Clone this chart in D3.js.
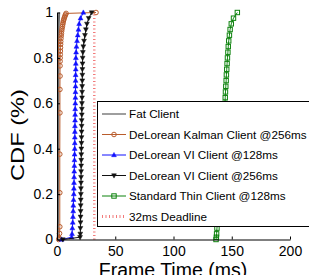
<!DOCTYPE html>
<html>
<head>
<meta charset="utf-8">
<script src="https://cdn.jsdelivr.net/npm/d3@7"></script>
<style>
  body { margin: 0; background: #fff; }
  svg { display: block; font-family: "Liberation Sans", Arial, sans-serif; }
</style>
</head>
<body>
<div id="graph_area"></div>
<script>
// CDF data: frame time (ms) vs cumulative fraction
const fatMs = [0.5, 0.7, 0.9, 1.0, 1.1, 1.2, 1.3, 1.5, 1.8, 2.0];
const fatCdf = [0, 0.02, 0.1, 0.3, 0.5, 0.7, 0.85, 0.95, 0.99, 1];

const kalmanMs = [1.5, 2.0, 2.2, 2.4, 2.4, 2.4, 2.5, 2.5, 2.6, 2.6, 2.65, 2.7, 2.8, 2.9, 3.0, 3.1, 3.2, 3.4, 3.6, 3.8, 4.0, 4.3, 4.6, 4.9, 5.2, 5.5, 5.9, 6.3, 6.8, 7.3, 7.8, 33.5];
const kalmanCdf = [0, 0.005, 0.027, 0.056, 0.206, 0.376, 0.558, 0.661, 0.72, 0.765, 0.785, 0.8, 0.815, 0.83, 0.845, 0.86, 0.872, 0.885, 0.897, 0.908, 0.918, 0.928, 0.938, 0.947, 0.955, 0.963, 0.97, 0.977, 0.984, 0.99, 0.996, 1];

// shared quantile levels for the VI and thin client curves
const levelCdf = [0, 0.01, 0.025, 0.05, 0.075, 0.1, 0.125, 0.15, 0.175, 0.2, 0.225, 0.25, 0.275, 0.3, 0.325, 0.35, 0.375, 0.4, 0.425, 0.45, 0.475, 0.5, 0.525, 0.55, 0.575, 0.6, 0.625, 0.65, 0.675, 0.7, 0.725, 0.75, 0.775, 0.8, 0.825, 0.85, 0.875, 0.9, 0.925, 0.95, 0.975, 1];

const vi128Ms = [4, 12.6, 12.9, 13.2, 13.5, 13.7, 13.9, 14.0, 14.2, 14.4, 14.5, 14.6, 14.7, 14.8, 14.9, 15.0, 15.1, 15.2, 15.25, 15.3, 15.35, 15.4, 15.5, 15.55, 15.6, 15.7, 15.8, 15.85, 15.9, 15.95, 16.0, 16.1, 16.15, 16.2, 16.4, 16.7, 17.2, 17.8, 18.4, 19.0, 20.2, 22.6];

const vi256Ms = [5, 19.8, 20.0, 20.1, 20.2, 20.25, 20.3, 20.35, 20.4, 20.5, 20.55, 20.6, 20.65, 20.7, 20.75, 20.8, 20.85, 20.9, 21.0, 21.05, 21.1, 21.15, 21.2, 21.3, 21.35, 21.4, 21.5, 21.55, 21.6, 21.7, 21.75, 21.8, 21.9, 22.0, 22.2, 22.6, 23.2, 24.0, 24.8, 25.7, 27.2, 29.8];

const thinMs = [136.5, 136.8, 137.0, 137.3, 137.7, 138.0, 138.4, 138.8, 139.1, 139.5, 139.8, 140.2, 140.6, 141.0, 141.3, 141.7, 142.0, 142.3, 142.6, 142.8, 143.1, 143.3, 143.6, 143.8, 144.0, 144.2, 144.4, 144.6, 144.9, 145.2, 145.4, 145.7, 146.0, 146.3, 146.7, 147.0, 147.4, 148.0, 148.6, 149.6, 151.5, 154.8];

const deadlineMs = 32;

const legendLabels = [
  'Fat Client',
  'DeLorean Kalman Client @256ms',
  'DeLorean VI Client @128ms',
  'DeLorean VI Client @256ms',
  'Standard Thin Client @128ms',
  '32ms Deadline',
];

const xTicks = [0, 50, 100, 150, 200];
const yTicks = [0, 0.2, 0.4, 0.6, 0.8, 1];
const yTickLabels = ['0', '0.2', '0.4', '0.6', '0.8', '1'];

// Draw area
const W = 309, H = 275;
const svg = d3.select('#graph_area')
  .append('svg')
    .attr('width', W)
    .attr('height', H);

const x = d3.scaleLinear().domain([0, 200]).range([57, 290]);
const y = d3.scaleLinear().domain([0, 1]).range([239.5, 12.5]);

const line = d3.line()
  .x(d => x(d[0]))
  .y(d => y(d[1]));

const series = [
  { ms: fatMs, cdf: fatCdf, color: '#6a6a6a', marker: null, width: 2 },
  { ms: kalmanMs, cdf: kalmanCdf, color: '#b95c2c', marker: 'circle', width: 1 },
  { ms: vi128Ms, cdf: levelCdf, color: '#1010ff', marker: 'up', width: 1 },
  { ms: vi256Ms, cdf: levelCdf, color: '#111111', marker: 'down', width: 1 },
  { ms: thinMs, cdf: levelCdf, color: '#0c820c', marker: 'square', width: 1 },
];

function drawMarker(g, type, cx, cy, color) {
  if (type === 'circle') {
    g.append('circle').attr('cx', cx).attr('cy', cy).attr('r', 2.3)
      .attr('fill', 'none').attr('stroke', color).attr('stroke-width', 1);
  } else if (type === 'up') {
    g.append('path')
      .attr('d', `M${cx},${cy - 2.6}L${cx + 2.4},${cy + 1.7}L${cx - 2.4},${cy + 1.7}Z`)
      .attr('fill', color).attr('stroke', color).attr('stroke-width', 0.5);
  } else if (type === 'down') {
    g.append('path')
      .attr('d', `M${cx},${cy + 2.6}L${cx + 2.4},${cy - 1.7}L${cx - 2.4},${cy - 1.7}Z`)
      .attr('fill', color).attr('stroke', color).attr('stroke-width', 0.5);
  } else if (type === 'square') {
    g.append('rect').attr('x', cx - 2.2).attr('y', cy - 2.2)
      .attr('width', 4.4).attr('height', 4.4)
      .attr('fill', 'none').attr('stroke', color).attr('stroke-width', 1);
  }
}

// Curves
series.forEach(s => {
  const pts = s.ms.map((v, i) => [v, s.cdf[i]]);
  const g = svg.append('g');
  g.append('path')
    .datum(pts)
    .attr('fill', 'none')
    .attr('stroke', s.color)
    .attr('stroke-width', s.width)
    .attr('d', line);
  if (s.marker) {
    pts.forEach(p => drawMarker(g, s.marker, x(p[0]), y(p[1]), s.color));
  }
});

// Deadline
svg.append('line')
  .attr('x1', x(deadlineMs)).attr('x2', x(deadlineMs))
  .attr('y1', y(0)).attr('y2', y(1))
  .attr('stroke', '#f27a7a')
  .attr('stroke-width', 2.5)
  .attr('stroke-dasharray', '1,2.5');

// Axes
const xAxis = svg.append('g')
  .attr('transform', `translate(0,${y(0)})`)
  .call(d3.axisBottom(x).tickValues(xTicks).tickSize(-3).tickSizeOuter(0).tickPadding(7));
const yAxis = svg.append('g')
  .attr('transform', `translate(${x(0)},0)`)
  .call(d3.axisLeft(y).tickValues(yTicks).tickFormat((d, i) => yTickLabels[i])
    .tickSize(-3).tickSizeOuter(0).tickPadding(4));
[xAxis, yAxis].forEach(a => {
  a.selectAll('text').attr('font-size', 14).attr('fill', '#000')
    .attr('font-family', '"Liberation Sans", Arial, sans-serif');
  a.selectAll('path, line').attr('stroke', '#000');
});

// Axis titles
svg.append('text')
  .attr('transform', 'translate(24,135) rotate(-90)')
  .attr('text-anchor', 'middle')
  .attr('font-size', 19)
  .attr('textLength', 92)
  .attr('lengthAdjust', 'spacingAndGlyphs')
  .text('CDF (%)');
svg.append('text')
  .attr('x', 173)
  .attr('y', 277)
  .attr('text-anchor', 'middle')
  .attr('font-size', 19.5)
  .text('Frame Time (ms)');

// Legend
const lg = svg.append('g');
lg.append('rect')
  .attr('x', 97.5).attr('y', 101.5)
  .attr('width', 240).attr('height', 125)
  .attr('fill', '#fff').attr('stroke', '#000').attr('stroke-width', 1);

legendLabels.forEach((label, i) => {
  const ry = 114 + i * 20.5;
  if (i < series.length) {
    const s = series[i];
    lg.append('line')
      .attr('x1', 102).attr('x2', 126).attr('y1', ry).attr('y2', ry)
      .attr('stroke', s.color).attr('stroke-width', s.width === 2 ? 1.3 : 1);
    if (s.marker) drawMarker(lg, s.marker, 114, ry, s.color);
  } else {
    lg.append('line')
      .attr('x1', 102).attr('x2', 126).attr('y1', ry).attr('y2', ry)
      .attr('stroke', '#f27a7a').attr('stroke-width', 3)
      .attr('stroke-dasharray', '1,2.5');
  }
  lg.append('text')
    .attr('x', 129).attr('y', ry + 4.2)
    .attr('font-size', 11.7)
    .text(label);
});
</script>
</body>
</html>
